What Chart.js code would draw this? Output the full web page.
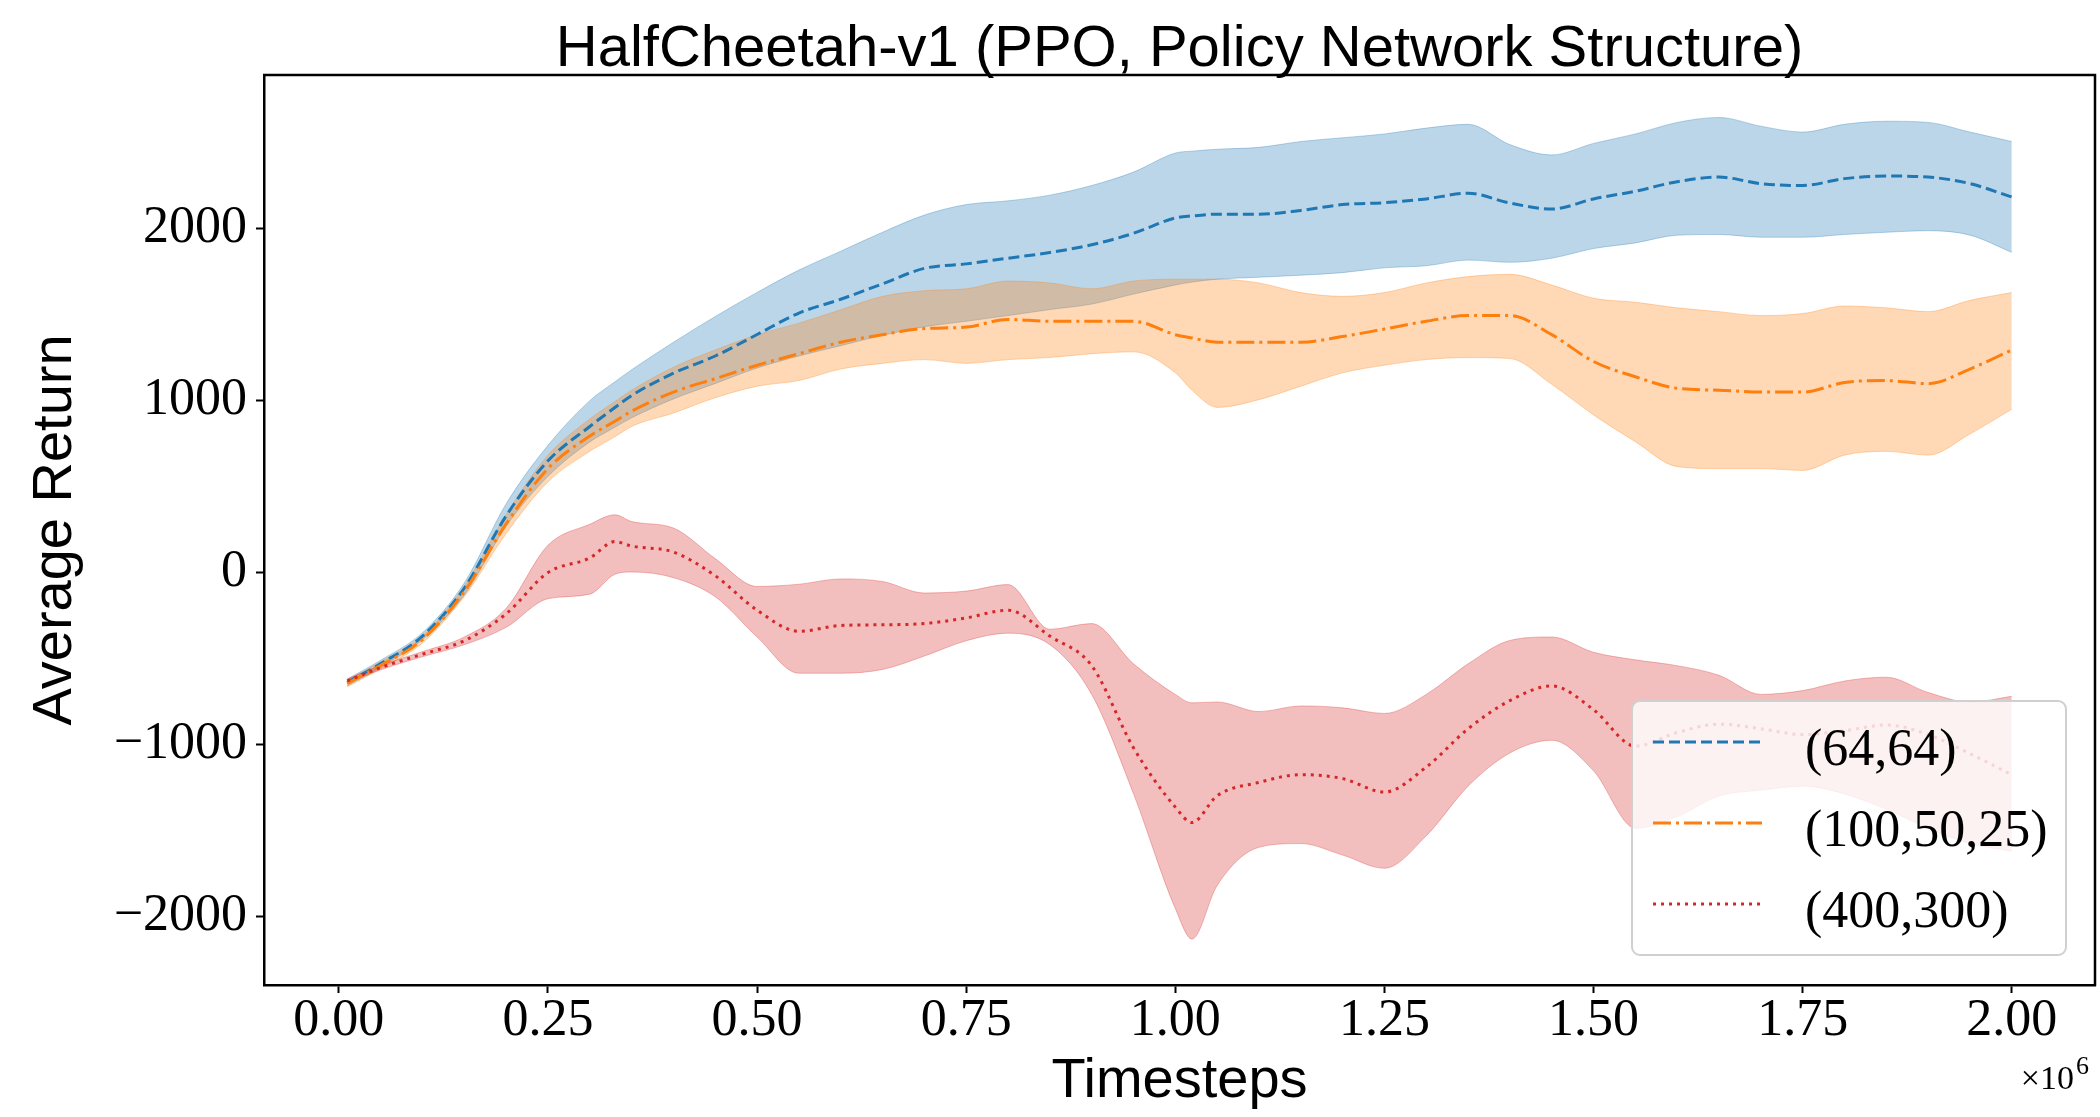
<!DOCTYPE html>
<html>
<head>
<meta charset="utf-8">
<script src="https://cdn.jsdelivr.net/npm/chart.js@4.4.1/dist/chart.umd.min.js"></script>
<style>
  html, body { margin: 0; padding: 0; background: #ffffff; }
  #wrap { width: 2100px; height: 1117px; }
</style>
</head>
<body>
<div id="wrap"><canvas id="c" width="2100" height="1117"></canvas></div>
<script>
// ---------------- data (timesteps in units of 1e6) ----------------
const timesteps = [0.01,0.05,0.10,0.15,0.20,0.25,0.30,0.33,0.35,0.40,0.45,0.50,0.55,0.60,0.65,0.70,0.75,0.80,0.85,0.90,0.95,1.00,1.02,1.05,1.10,1.15,1.20,1.25,1.30,1.35,1.40,1.45,1.50,1.55,1.60,1.65,1.70,1.75,1.80,1.85,1.90,1.95,2.00];

const blueMean  = [-640,-530,-370,-90,330,650,850,960,1030,1160,1260,1385,1510,1590,1680,1770,1796,1829,1862,1907,1974,2063,2075,2085,2085,2107,2141,2152,2174,2207,2150,2115,2174,2219,2274,2301,2263,2252,2292,2307,2301,2263,2185];
const blueUpper = [-620,-510,-350,-60,400,740,1000,1110,1180,1340,1490,1630,1760,1870,1980,2080,2141,2163,2196,2252,2330,2441,2452,2463,2474,2508,2530,2552,2586,2608,2490,2430,2497,2552,2619,2648,2597,2563,2608,2626,2619,2563,2508];
const blueLower = [-660,-550,-390,-130,270,560,760,845,900,1010,1100,1190,1260,1320,1380,1430,1462,1495,1530,1562,1620,1673,1690,1707,1718,1730,1745,1773,1785,1818,1805,1829,1885,1918,1963,1967,1951,1951,1967,1980,1989,1963,1863];

const orangeMean  = [-645,-540,-390,-110,283,605,794,880,939,1050,1128,1206,1273,1340,1384,1420,1428,1473,1462,1462,1462,1384,1365,1340,1340,1340,1373,1417,1462,1495,1495,1384,1228,1139,1072,1061,1050,1050,1106,1117,1099,1184,1295];
const orangeUpper = [-625,-520,-370,-80,338,683,894,995,1061,1195,1295,1384,1451,1529,1607,1640,1651,1696,1685,1651,1696,1707,1707,1707,1685,1629,1607,1629,1685,1722,1735,1673,1596,1573,1540,1518,1495,1507,1551,1540,1518,1584,1629];
const orangeLower = [-665,-560,-410,-140,227,527,705,790,850,928,1017,1084,1117,1184,1217,1239,1217,1239,1251,1273,1284,1162,1060,961,1006,1084,1162,1206,1239,1251,1245,1095,917,761,616,605,605,594,683,705,683,806,950];

const redMean  = [-631,-553,-475,-397,-240,0,85,180,154,119,-19,-219,-342,-308,-304,-297,-264,-219,-370,-542,-1020,-1365,-1455,-1299,-1221,-1176,-1199,-1277,-1132,-909,-745,-660,-798,-1010,-931,-882,-909,-943,-920,-887,-943,-1054,-1177];
const redUpper = [-620,-540,-460,-375,-208,159,281,336,297,259,81,-81,-68,-37,-52,-119,-108,-70,-330,-297,-531,-709,-758,-753,-809,-776,-787,-820,-709,-531,-395,-375,-464,-508,-542,-598,-709,-687,-631,-609,-698,-754,-720];
const redLower = [-642,-566,-490,-420,-319,-152,-126,-10,3,-30,-141,-375,-586,-586,-564,-486,-397,-353,-420,-709,-1287,-1955,-2133,-1821,-1599,-1577,-1644,-1721,-1532,-1243,-1050,-976,-1154,-1488,-1420,-1300,-1266,-1243,-1288,-1377,-1488,-1577,-1622];

const seriesLabels = ['(64,64)', '(100,50,25)', '(400,300)'];
const xTickValues = [0, 0.25, 0.5, 0.75, 1.0, 1.25, 1.5, 1.75, 2.0];
const yTickValues = [-2000, -1000, 0, 1000, 2000];
const chartTitle = 'HalfCheetah-v1 (PPO, Policy Network Structure)';
const xAxisTitle = 'Timesteps';
const yAxisTitle = 'Average Return';
const xMultiplier = ['\u00d710', '6'];

// ---------------- styling ----------------
const SANS = "'Liberation Sans', Arial, sans-serif";
const SERIF = "'Liberation Serif', 'Times New Roman', serif";
const colors = ['#1f77b4', '#ff7f0e', '#d62728'];
const bands = ['rgba(31,119,180,0.30)', 'rgba(255,127,14,0.30)', 'rgba(214,39,40,0.30)'];
const dashes = [[11, 5], [18, 5, 3, 5], [3, 5]];

const pts = arr => timesteps.map((t, i) => ({ x: t, y: arr[i] }));

const groups = [
  { mean: blueMean, up: blueUpper, lo: blueLower },
  { mean: orangeMean, up: orangeUpper, lo: orangeLower },
  { mean: redMean, up: redUpper, lo: redLower }
];

const datasets = [];
groups.forEach((g, k) => {
  const upIndex = datasets.length;
  datasets.push({
    label: seriesLabels[k] + ' upper', data: pts(g.up),
    borderColor: bands[k], borderWidth: 1, backgroundColor: bands[k],
    fill: upIndex + 1, pointRadius: 0, order: 10 - k, isBand: true,
    cubicInterpolationMode: 'monotone'
  });
  datasets.push({
    label: seriesLabels[k] + ' lower', data: pts(g.lo),
    borderColor: bands[k], borderWidth: 1, fill: false,
    pointRadius: 0, order: 10 - k, isBand: true,
    cubicInterpolationMode: 'monotone'
  });
});
groups.forEach((g, k) => {
  datasets.push({
    label: seriesLabels[k], data: pts(g.mean),
    borderColor: colors[k], borderWidth: 3, borderDash: dashes[k],
    fill: false, pointRadius: 0, order: 3 - k, isMean: true,
    cubicInterpolationMode: 'monotone'
  });
});

const fmtY = v => (v < 0 ? '\u2212' + Math.abs(v) : String(v));

const decor = {
  id: 'decor',
  afterDraw(chart) {
    const { ctx, chartArea: ca } = chart;
    ctx.save();
    // top & right spines
    ctx.strokeStyle = '#000'; ctx.lineWidth = 2.5;
    ctx.beginPath();
    ctx.moveTo(ca.left - 1, ca.top); ctx.lineTo(ca.right, ca.top); ctx.lineTo(ca.right, ca.bottom + 1);
    ctx.stroke();

    // title
    ctx.fillStyle = '#000';
    ctx.font = '58px ' + SANS;
    ctx.textAlign = 'center'; ctx.textBaseline = 'alphabetic';
    ctx.fillText(chartTitle, (ca.left + ca.right) / 2, ca.top - 9);

    // x multiplier
    ctx.textAlign = 'right';
    ctx.font = '34px ' + SERIF;
    ctx.fillText(xMultiplier[0], ca.right - 21, ca.bottom + 104);
    ctx.textAlign = 'left';
    ctx.font = '26px ' + SERIF;
    ctx.fillText(xMultiplier[1], ca.right - 19, ca.bottom + 89);

    // legend
    const bw = 434, bh = 254;
    const bx = ca.right - 29 - bw, by = ca.bottom - 30 - bh;
    ctx.beginPath();
    ctx.roundRect(bx, by, bw, bh, 8);
    ctx.fillStyle = 'rgba(255,255,255,0.8)';
    ctx.fill();
    ctx.strokeStyle = '#d0d0d0'; ctx.lineWidth = 2;
    ctx.stroke();
    const means = chart.data.datasets.filter(d => d.isMean);
    means.forEach((d, i) => {
      const ry = by + 41 + i * 81;
      ctx.beginPath();
      ctx.setLineDash(d.borderDash);
      ctx.strokeStyle = d.borderColor; ctx.lineWidth = 3;
      ctx.moveTo(bx + 21, ry); ctx.lineTo(bx + 130, ry);
      ctx.stroke();
      ctx.setLineDash([]);
      ctx.fillStyle = '#000';
      ctx.font = '52px ' + SERIF;
      ctx.textAlign = 'left'; ctx.textBaseline = 'alphabetic';
      ctx.fillText(d.label, bx + 173, ry + 23);
    });
    ctx.restore();
  }
};

new Chart(document.getElementById('c'), {
  type: 'line',
  data: { datasets },
  plugins: [decor],
  options: {
    responsive: false,
    animation: false,
    devicePixelRatio: 1,
    layout: { padding: { top: 75, right: 5, left: 0, bottom: 0 } },
    plugins: {
      legend: { display: false },
      title: { display: false },
      tooltip: { enabled: false }
    },
    scales: {
      x: {
        type: 'linear',
        min: -0.0895, max: 2.0995,
        afterBuildTicks: axis => { axis.ticks = xTickValues.map(v => ({ value: v })); },
        afterFit: scale => { scale.height = 132; },
        ticks: {
          callback: v => Number(v).toFixed(2),
          font: { family: SERIF, size: 52, lineHeight: 1 },
          color: '#000', padding: 2, maxRotation: 0, autoSkip: false
        },
        grid: { drawOnChartArea: false, drawTicks: true, tickLength: 8, tickWidth: 2, tickColor: '#000' },
        border: { display: true, color: '#000', width: 2.5 },
        title: {
          display: true, text: xAxisTitle, color: '#000',
          font: { family: SANS, size: 56, lineHeight: 1 },
          padding: { top: 0, bottom: 7 }
        }
      },
      y: {
        type: 'linear',
        min: -2400, max: 2895,
        afterBuildTicks: axis => { axis.ticks = yTickValues.map(v => ({ value: v })); },
        afterFit: scale => { scale.width = 264; },
        ticks: {
          callback: v => fmtY(v),
          font: { family: SERIF, size: 52, lineHeight: 1 },
          color: '#000', padding: 9, autoSkip: false
        },
        grid: { drawOnChartArea: false, drawTicks: true, tickLength: 8, tickWidth: 2, tickColor: '#000' },
        border: { display: true, color: '#000', width: 2.5 },
        title: {
          display: true, text: yAxisTitle, color: '#000',
          font: { family: SANS, size: 56, lineHeight: 1 },
          padding: { top: 28, bottom: 0 }
        }
      }
    }
  }
});
</script>
</body>
</html>
